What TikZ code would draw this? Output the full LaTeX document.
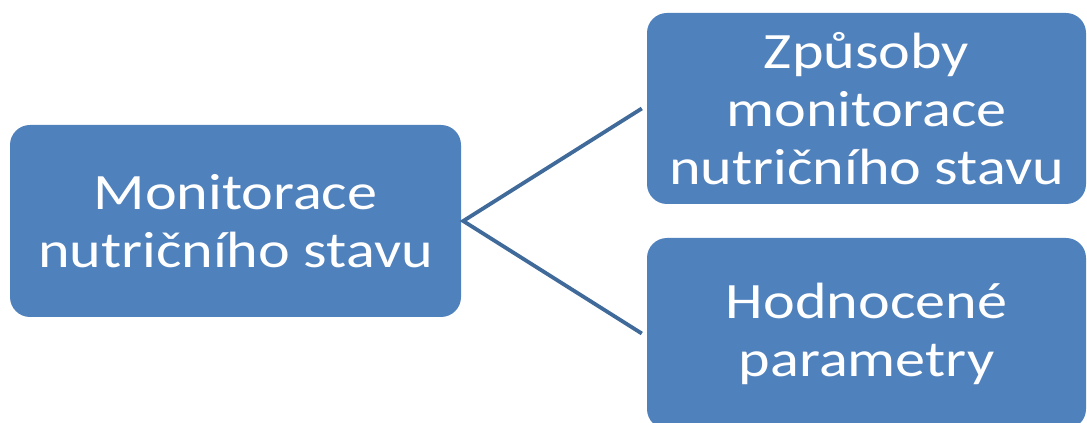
\documentclass[tikz,border=0pt]{standalone}
\usepackage{fontspec}
\setmainfont{Carlito}[FakeStretch=1.18]
\definecolor{boxblue}{HTML}{4F81BD}
\definecolor{lineblue}{HTML}{3F6A99}
\begin{document}
\begin{tikzpicture}[x=1pt,y=1pt,
  box/.style={fill=boxblue, draw=none, rounded corners=20pt, text=white, align=center,
    inner sep=0pt, font=\fontsize{51}{58}\selectfont},
  conn/.style={draw=lineblue, line width=3.8pt}]
\clip (0,0) rectangle (1087,423);
\fill[white] (0,0) rectangle (1087,423);
\node[box, minimum width=451pt, minimum height=192pt] (l) at (235.5,202) {Monitorace\\nutričního stavu};
\node[box, minimum width=439pt, minimum height=191pt] (tr) at (866.5,314.5) {Způsoby\\monitorace\\nutričního stavu};
\node[box, minimum width=439pt, minimum height=191pt] (br) at (866.5,89.5) {Hodnocené\\parametry};
\coordinate (tre) at ([xshift=-5pt]tr.west);
\coordinate (bre) at ([xshift=-5pt]br.west);
\draw[conn] (tre) -- ([xshift=2pt]l.east) -- (bre);
\end{tikzpicture}
\end{document}
